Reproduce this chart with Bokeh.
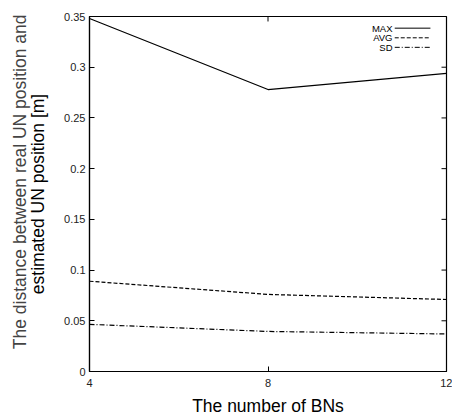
from bokeh.plotting import figure
from bokeh.models import Range1d, FixedTicker, Title, Label, Arrow
from bokeh.embed import file_html
from bokeh.resources import INLINE

# data
bns = [4, 8, 12]
max_err = [0.348, 0.278, 0.294]
avg_err = [0.089, 0.076, 0.071]
sd_err = [0.0465, 0.0395, 0.037]

series_names = ["MAX", "AVG", "SD"]
x_ticks = [4, 8, 12]
y_ticks = [0, 0.05, 0.1, 0.15, 0.2, 0.25, 0.3, 0.35]
y_tick_labels = ["0", "0.05", "0.1", "0.15", "0.2", "0.25", "0.3", "0.35"]

x_label = "The number of BNs"
y_label_1 = "The distance between real UN position and"
y_label_2 = "estimated UN position [m]"

FONT = "Liberation Sans"
W, H = 452, 418
ML, MR, MT, MB = 89, 6, 16, 45

x0, x1 = 4, 12
y0, y1 = 0, 0.35

frame_w = W - ML - MR
frame_h = H - MT - MB
px_x = (x1 - x0) / frame_w   # data units per pixel
px_y = (y1 - y0) / frame_h

p = figure(width=W, height=H, output_backend="svg", toolbar_location=None,
           x_range=Range1d(x0, x1), y_range=Range1d(y0, y1),
           min_border_left=ML, min_border_right=MR, min_border_top=MT, min_border_bottom=MB)
p.grid.visible = False
p.outline_line_color = "black"
p.outline_line_width = 1.2
p.background_fill_color = "white"
p.border_fill_color = "white"

for ax in (p.xaxis[0], p.yaxis[0]):
    ax.axis_line_color = "black"
    ax.axis_line_width = 1.2
    ax.major_tick_in = 5
    ax.major_tick_out = 0
    ax.minor_tick_in = 0
    ax.minor_tick_out = 0
    ax.major_tick_line_color = "black"
    ax.major_label_text_font = FONT
    ax.major_label_text_font_size = "11px"
    ax.major_label_text_color = "#222222"
    ax.axis_label_text_font = FONT
    ax.axis_label_text_font_size = "17.5px"
    ax.axis_label_text_font_style = "normal"
    ax.axis_label_text_color = "black"

p.xaxis.ticker = FixedTicker(ticks=x_ticks)
p.yaxis.ticker = FixedTicker(ticks=y_ticks)
p.yaxis.major_label_overrides = {t: l for t, l in zip(y_ticks, y_tick_labels)}
p.xaxis.major_label_standoff = 7
p.yaxis.major_label_standoff = 4
p.xaxis.axis_label = x_label
p.xaxis.axis_label_standoff = 6
p.yaxis.axis_label = y_label_2
p.yaxis.axis_label_standoff = 13

p.add_layout(Title(text=y_label_1, align="right", text_font=FONT, text_font_size="17.5px",
                   text_font_style="normal", standoff=-8, offset=-2), "left")

# mirrored ticks on the top and right edges (gnuplot style), 5 px long
p.segment(x0=[x1] * len(y_ticks), y0=y_ticks, x1=[x1 - 5 * px_x] * len(y_ticks), y1=y_ticks,
          line_color="black", line_width=1)
p.segment(x0=x_ticks, y0=[y1] * len(x_ticks), x1=x_ticks, y1=[y1 - 5 * px_y] * len(x_ticks),
          line_color="black", line_width=1)

dashes = ["solid", "4 2", "5 2 1 2"]
for ys, dash in zip([max_err, avg_err, sd_err], dashes):
    p.line(bns, ys, line_color="black", line_width=1.2, line_dash=dash)

# key (gnuplot style: text then sample)
key_y = [0.3385, 0.329, 0.3196]
for name, dash, ky in zip(series_names, dashes, key_y):
    p.add_layout(Label(x=10.79, y=ky, text=name, text_align="right", text_baseline="middle",
                       text_font=FONT, text_font_size="9.5px", text_color="black"))
    p.add_layout(Arrow(end=None, x_start=10.84, y_start=ky, x_end=11.64, y_end=ky,
                       line_color="black", line_width=1, line_dash=dash))

open("out.html", "w").write(file_html(p, INLINE))
